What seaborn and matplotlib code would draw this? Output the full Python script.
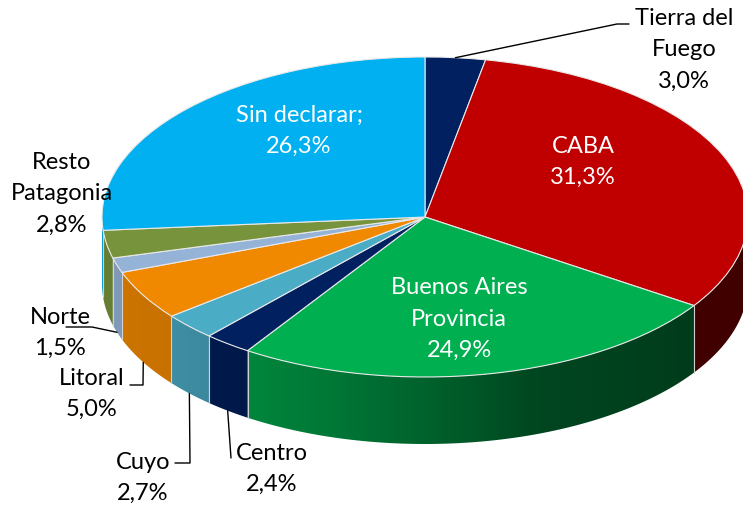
import numpy as np
import matplotlib
matplotlib.use("Agg")
import matplotlib.pyplot as plt
import seaborn as sns
from matplotlib.patches import Wedge, Polygon
from matplotlib.transforms import Affine2D
from matplotlib.colors import to_rgb

# data (clockwise from 12 o'clock)
regions = ["Tierra del\nFuego", "CABA", "Buenos Aires\nProvincia", "Centro", "Cuyo",
           "Litoral", "Norte", "Resto\nPatagonia", "Sin declarar;"]
shares = [3.0, 31.3, 24.9, 2.4, 2.7, 5.0, 1.5, 2.8, 26.3]
colors = ["#002060", "#C00000", "#00B050", "#002060", "#4BACC6",
          "#F08800", "#95B3D7", "#77933C", "#00B0F0"]
inside = [False, True, True, False, False, False, False, False, True]

sns.set_theme(style="white")
plt.rcParams["font.family"] = ["Lato", "DejaVu Sans"]

fig = plt.figure(figsize=(7.43, 5.08), dpi=100)
ax = fig.add_axes([0, 0, 1, 1])
ax.set_xlim(0, 743)
ax.set_ylim(508, 0)
ax.axis("off")

# geometry of the tilted pie (pixels)
cx, cy, rx, ry, depth = 425, 217, 323, 160, 67
edges = np.concatenate([[0], np.cumsum(shares)]) / sum(shares) * 360


def rim(t, dz=0.0):
    r = np.radians(t)
    return cx + rx * np.sin(r), cy - ry * np.cos(r) + dz


def shade(t):
    return np.interp(t, [90, 125, 160, 175, 197, 215, 235, 270],
                     [0.33, 0.34, 0.40, 0.52, 0.68, 0.77, 0.84, 0.87])


# side walls (front half only), with a horizontal lighting gradient
xs_img = np.linspace(cx - rx, cx + rx, 700)
theta_x = 180 - np.degrees(np.arcsin(np.clip((xs_img - cx) / rx, -1, 1)))
for i, c in enumerate(colors):
    lo, hi = max(edges[i], 90), min(edges[i + 1], 270)
    if lo >= hi:
        continue
    ts = np.linspace(lo, hi, 200)
    top = [rim(t) for t in ts]
    bot = [rim(t, depth) for t in ts[::-1]]
    poly = Polygon(top + bot, closed=True, facecolor="none", edgecolor="none")
    ax.add_patch(poly)
    img = np.array(to_rgb(c))[None, None, :] * shade(theta_x)[None, :, None]
    im = ax.imshow(img, extent=(cx - rx, cx + rx, cy + ry + depth, cy - ry),
                   aspect="auto", interpolation="bilinear", zorder=1)
    im.set_clip_path(poly)

for t in edges[1:-1]:
    if 90 < t < 270:
        x, y = rim(t)
        ax.plot([x, x], [y, y + depth], color="#d0d0d0", lw=0.8, zorder=2)

ax.set_xlim(0, 743)
ax.set_ylim(508, 0)

# top face
tr = Affine2D().scale(rx, -ry).translate(cx, cy) + ax.transData
for i, c in enumerate(colors):
    ax.add_patch(Wedge((0, 0), 1, 90 - edges[i + 1], 90 - edges[i], facecolor=c,
                       edgecolor="#e8e8e8", lw=0.8, transform=tr, zorder=3))

# labels
lab_pos = [(684, 50), (583, 162), (459, 319), (272, 469), (143, 478),
           (92, 394), (60, 333), (62, 194), (299, 131)]
for i, name in enumerate(regions):
    txt = f"{name}\n{shares[i]:.1f}%".replace(".", ",")
    ax.text(*lab_pos[i], txt, ha="center", va="center", fontsize=17,
            color="white" if inside[i] else "black", linespacing=1.6, zorder=5)

# leader lines: start at the slice middle on the rim
mid = (edges[:-1] + edges[1:]) / 2
leaders = {0: [(617, 24), (629, 24)],
           3: [(231, 458)],
           4: [(190, 463), (175, 463)],
           5: [(143, 385), (130, 385)],
           6: [(92, 327), (66, 327)]}
for i, pts in leaders.items():
    x0, y0 = rim(mid[i], depth if 90 < mid[i] < 270 else 0)
    xs = [x0] + [p[0] for p in pts]
    ys = [y0] + [p[1] for p in pts]
    ax.plot(xs, ys, color="black", lw=1.0, zorder=4)

fig.savefig("out.png", dpi=100)
